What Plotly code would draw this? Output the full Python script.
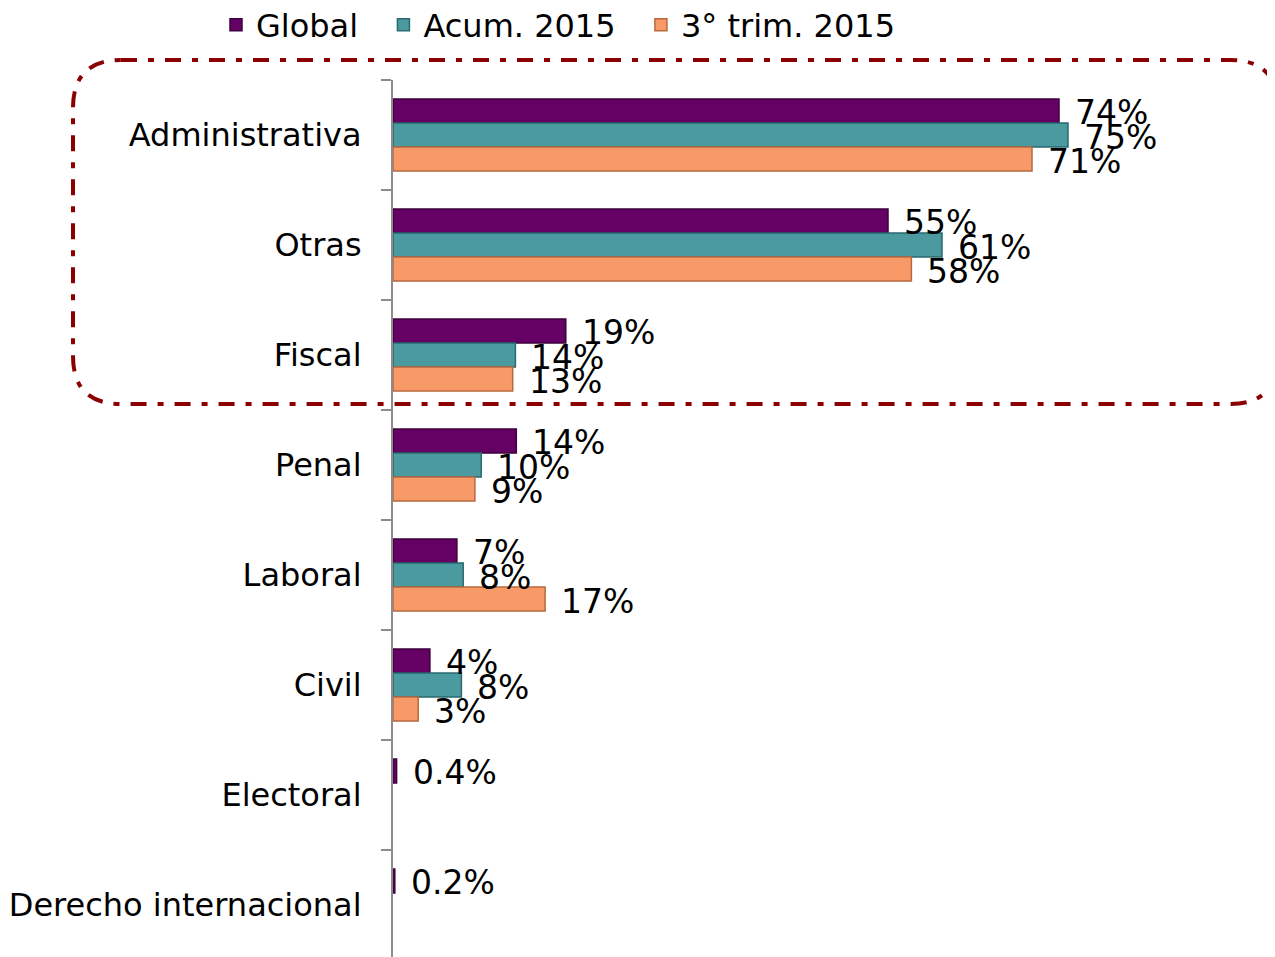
import plotly.graph_objects as go

categories = ["Administrativa", "Otras", "Fiscal", "Penal", "Laboral", "Civil",
              "Electoral", "Derecho internacional"]
global_vals = [74, 55, 19.2, 13.7, 7.1, 4.1, 0.4, 0.2]
acum_vals = [75, 61, 13.6, 9.8, 7.8, 7.6, None, None]
trim_vals = [71, 57.6, 13.3, 9.1, 16.9, 2.8, None, None]
global_text = ["74%", "55%", "19%", "14%", "7%", "4%", "0.4%", "0.2%"]
acum_text = ["75%", "61%", "14%", "10%", "8%", "8%", None, None]
trim_text = ["71%", "58%", "13%", "9%", "17%", "3%", None, None]
series_names = ["Global", "Acum. 2015", "3° trim. 2015"]

colors = ["#650065", "#4a9aa0", "#f79a68"]
line_colors = ["#3e003e", "#2a6a70", "#b8683e"]
FONT = "DejaVu Sans, Verdana, sans-serif"

OFF = 8  # page body margin offset
W, H = 1275, 957
L, R, T, B = 393 - OFF, OFF, 80 - OFF, OFF
plot_w = W - L - R
plot_h = H - T - B
px_per_unit = 9.0
band = 110.0

fig = go.Figure()
all_vals = [global_vals, acum_vals, trim_vals]
all_text = [global_text, acum_text, trim_text]
legend_pad = ["\u00a0\u00a0", "\u00a0\u00a0", ""]
for name, vals, c, lc, pad in zip(series_names, all_vals, colors, line_colors, legend_pad):
    fig.add_trace(go.Bar(
        y=categories, x=vals, name=name + pad, orientation="h",
        marker=dict(color=c, line=dict(color=lc, width=1.5)),
    ))

annotations = []
bar_h = band * (1 - 0.345) / 3
for i, (vals, txts) in enumerate(zip(all_vals, all_text)):
    for cat, v, t in zip(categories, vals, txts):
        if v is None or t is None:
            continue
        annotations.append(dict(
            x=v, y=cat, xref="x", yref="y", text=t, showarrow=False,
            xanchor="left", yanchor="middle", xshift=14,
            yshift=(1 - i) * bar_h - 2,
            font=dict(family=FONT, size=33, color="#000000"),
        ))

def P(px, py):
    # screen pixels -> paper coords
    a = (px - OFF - L) / plot_w
    b = (H - B - (py - OFF)) / plot_h
    return f"{a:.5f},{b:.5f}"

x0, y0, x1, y1, r = 73, 60, 1278, 404, 48
path = (f"M {P(x0 + r, y0)} L {P(x1 - r, y0)} Q {P(x1, y0)} {P(x1, y0 + r)} "
        f"L {P(x1, y1 - r)} Q {P(x1, y1)} {P(x1 - r, y1)} "
        f"L {P(x0 + r, y1)} Q {P(x0, y1)} {P(x0, y1 - r)} "
        f"L {P(x0, y0 + r)} Q {P(x0, y0)} {P(x0 + r, y0)} Z")

leg_x = (216 - OFF - L) / plot_w
leg_y = (H - B - (25 - OFF)) / plot_h

fig.update_layout(
    width=W, height=H,
    margin=dict(l=L, r=R, t=T, b=B, pad=0, autoexpand=False),
    paper_bgcolor="white", plot_bgcolor="white",
    barmode="group", bargap=0.345, bargroupgap=0,
    font=dict(family=FONT, size=32, color="#000000"),
    showlegend=True,
    legend=dict(orientation="h", x=leg_x, xanchor="left",
                y=leg_y, yref="paper", yanchor="middle",
                font=dict(family=FONT, size=32, color="#000000"),
                itemwidth=30, traceorder="normal", bgcolor="rgba(0,0,0,0)"),
    xaxis=dict(range=[0, plot_w / px_per_unit], showgrid=False, zeroline=False,
               showline=False, showticklabels=False, ticks=""),
    yaxis=dict(type="category", categoryorder="array", categoryarray=categories,
               range=[-0.5 + plot_h / band, -0.5], showgrid=False, zeroline=False,
               showline=True, linecolor="#8c8c8c", linewidth=2,
               ticks="outside", tickson="boundaries", ticklen=10,
               tickcolor="#8c8c8c", tickwidth=2, ticklabelstandoff=23,
               tickfont=dict(family=FONT, size=32, color="#000000")),
    annotations=annotations,
    shapes=[dict(type="path", xref="paper", yref="paper", path=path,
                 line=dict(color="#8b0000", width=4, dash="16px,11px,6px,11px"),
                 fillcolor="rgba(0,0,0,0)", layer="above")],
)

fig.write_html("out.html")
